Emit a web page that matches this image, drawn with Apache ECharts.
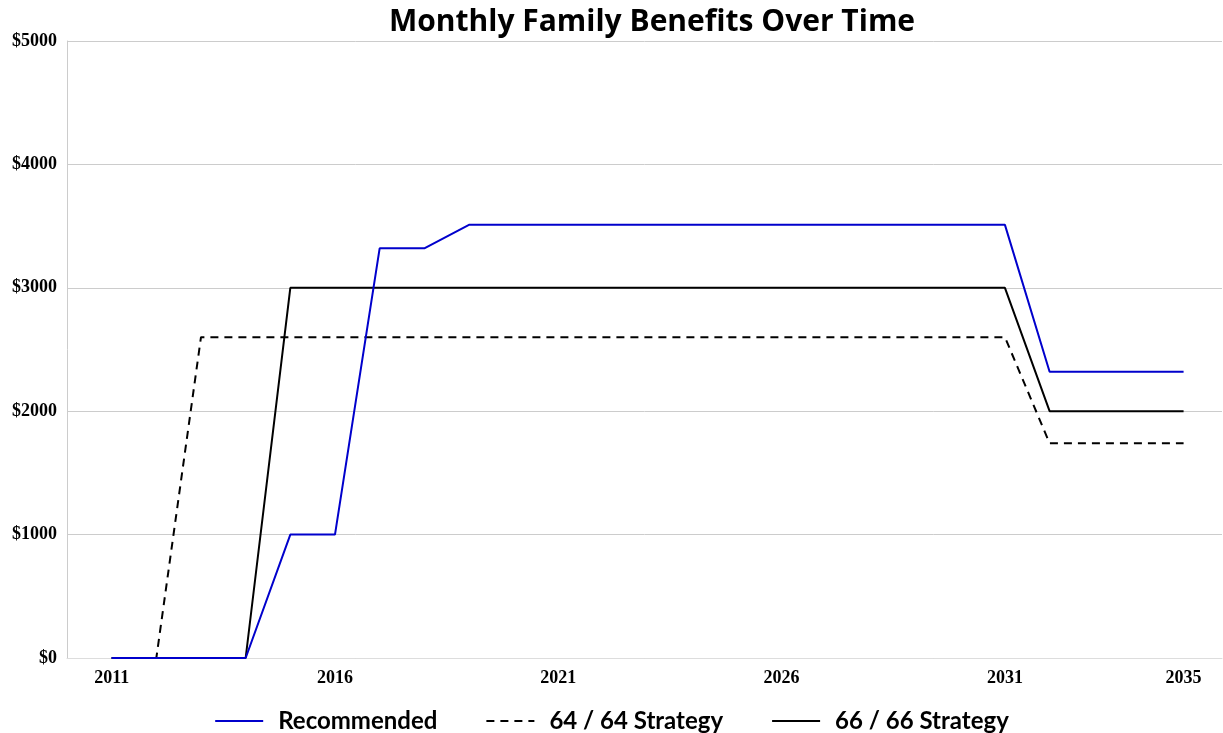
<!DOCTYPE html>
<html>
<head>
<meta charset="utf-8">
<script src="https://cdn.jsdelivr.net/npm/echarts@6/dist/echarts.min.js"></script>
<style>html,body{margin:0;padding:0;background:#fff}#c{width:1223px;height:733px}</style>
</head>
<body>
<div id="c"></div>
<script>
const years = [2011,2012,2013,2014,2015,2016,2017,2018,2019,2020,2021,2022,2023,2024,2025,2026,2027,2028,2029,2030,2031,2032,2033,2034,2035];
const recommended = [0,0,0,0,1000,1000,3320,3320,3510,3510,3510,3510,3510,3510,3510,3510,3510,3510,3510,3510,3510,2320,2320,2320,2320];
const strategy6464 = [0,0,2600,2600,2600,2600,2600,2600,2600,2600,2600,2600,2600,2600,2600,2600,2600,2600,2600,2600,2600,1740,1740,1740,1740];
const strategy6666 = [0,0,0,0,3000,3000,3000,3000,3000,3000,3000,3000,3000,3000,3000,3000,3000,3000,3000,3000,3000,2000,2000,2000,2000];
const xTickLabels = [2011,2016,2021,2026,2031,2035];
const yTicks = [0,1000,2000,3000,4000,5000];

const pairs = arr => years.map((y,i)=>[y,arr[i]]);
const chart = echarts.init(document.getElementById('c'));
const axisFont = {fontFamily:'Liberation Serif', fontWeight:'bold', fontSize:18, color:'#000'};
chart.setOption({
  animation:false,
  title:{text:'Monthly Family Benefits Over Time', left:647, top:2, textAlign:'center',
    textStyle:{fontFamily:'Open Sans', fontWeight:'bold', fontSize:30, color:'#000'}},
  legend:{bottom:-5, left:'center', itemWidth:48, itemHeight:10, itemGap:48,
    itemStyle:{opacity:0},
    textStyle:{fontFamily:'Lato', fontWeight:'bold', fontSize:24, color:'#000', padding:[0,0,0,10]},
    data:['Recommended','64 / 64 Strategy','66 / 66 Strategy']},
  grid:{left:67, right:1, top:41, bottom:75, containLabel:false},
  xAxis:{type:'value', min:2010, max:2035.86,
    axisLine:{show:true, onZero:false, lineStyle:{color:'#ddd'}},
    axisTick:{show:false}, splitLine:{show:false},
    axisLabel:Object.assign({customValues:xTickLabels, formatter:v=>String(v), margin:11}, axisFont)},
  yAxis:{type:'value', min:yTicks[0], max:yTicks[yTicks.length-1], interval:1000,
    axisLine:{show:true, lineStyle:{color:'#ccc'}}, axisTick:{show:false},
    splitLine:{lineStyle:{color:'#ccc'}},
    axisLabel:Object.assign({formatter:v=>'$'+v, margin:10}, axisFont)},
  series:[
    {name:'Recommended', type:'line', data:pairs(recommended), symbol:'none', z:5,
      lineStyle:{color:'#0000cc', width:2}, itemStyle:{color:'#0000cc'}},
    {name:'64 / 64 Strategy', type:'line', data:pairs(strategy6464), symbol:'none', z:3,
      lineStyle:{color:'#000', width:2, type:[8,6]}, itemStyle:{color:'#000'}},
    {name:'66 / 66 Strategy', type:'line', data:pairs(strategy6666), symbol:'none', z:4,
      lineStyle:{color:'#000', width:2}, itemStyle:{color:'#000'}}
  ]
});
</script>
</body>
</html>
